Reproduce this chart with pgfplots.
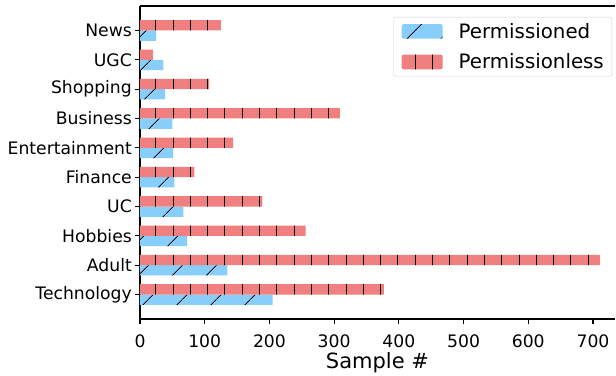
\documentclass[border=0pt]{standalone}
\usepackage{fontspec}
\setmainfont{DejaVu Sans}
\usepackage{pgfplots}
\pgfplotsset{compat=1.18}
\usetikzlibrary{patterns.meta}
\definecolor{pblue}{HTML}{87CEFA}
\definecolor{pred}{HTML}{F08080}
\begin{document}
\begin{tikzpicture}
\path (-140pt,-56pt) rectangle (476pt,319pt);
\begin{axis}[
  at={(0pt,0pt)}, anchor=south west,
  scale only axis, width=475pt, height=313pt,
  clip=false,
  xbar, bar width=0.35,
  xmin=0, xmax=734, ymin=-0.835, ymax=9.835,
  axis x line*=box, axis y line*=left,
  xtick pos=bottom, ytick pos=left,
  axis line style={line width=1.1pt, black},
  tick align=outside, major tick length=5pt,
  tick style={line width=1.1pt, black},
  xtick={0,100,...,700},
  ytick={0,...,9},
  yticklabels={Technology,Adult,Hobbies,UC,Finance,Entertainment,Business,Shopping,UGC,News},
  /pgf/number format/assume math mode=true,
  ticklabel style={font=\fontsize{17.2}{20}\selectfont},
  yticklabel style={inner sep=0pt, xshift=-3pt},
  xticklabel style={inner sep=0pt, yshift=-11pt},
  xlabel={Sample \#},
  xlabel style={font=\fontsize{21}{24}\selectfont, inner sep=0pt, yshift=-4pt},
  legend style={at={(0.9937,0.965)}, anchor=north east, draw=black!18, rounded corners=2pt,
    font=\fontsize{19.8}{22}\selectfont, inner xsep=8pt, inner ysep=6pt,
    nodes={inner sep=0pt}, row sep=14pt,
    /tikz/every odd column/.append style={column sep=16pt}},
  legend cell align=left,
  legend image code/.code={\path[#1] (0pt,-7.3pt) rectangle (41pt,7.3pt);},
]
\addplot[draw=none, fill=pblue, bar shift=0pt,
  postaction={pattern={Lines[angle=45,distance=24.5pt,line width=1pt]}, pattern color=black}]
  coordinates {(205,-0.175) (135,0.825) (73,1.825) (67,2.825) (53,3.825) (51,4.825) (50,5.825) (39,6.825) (36,7.825) (25,8.825)};
\addlegendentry{Permissioned}
\addplot[draw=none, fill=pred, bar shift=0pt,
  postaction={pattern={Lines[angle=90,distance=17.3pt,line width=1pt]}, pattern color=black}]
  coordinates {(377,0.175) (711,1.175) (256,2.175) (189,3.175) (84,4.175) (144,5.175) (309,6.175) (107,7.175) (20,8.175) (125,9.175)};
\addlegendentry{Permissionless}
\end{axis}
\end{tikzpicture}
\end{document}
